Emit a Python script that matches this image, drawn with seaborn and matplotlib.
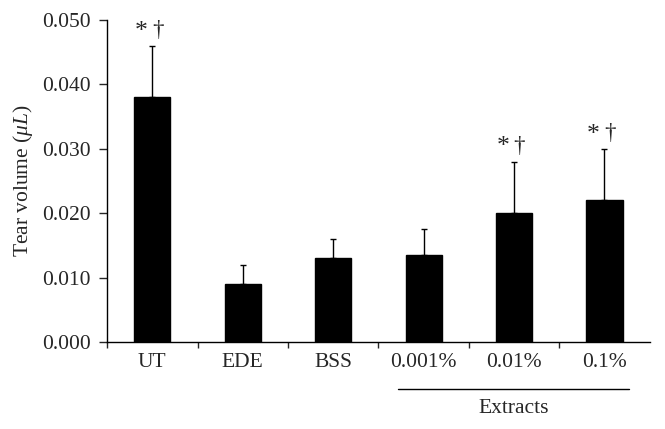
import matplotlib
matplotlib.use("Agg")
import matplotlib.pyplot as plt
import seaborn as sns
import pandas as pd
import matplotlib.transforms as mtransforms

categories = ["UT", "EDE", "BSS", "0.001%", "0.01%", "0.1%"]
means = [0.038, 0.009, 0.013, 0.0135, 0.020, 0.022]
errors = [0.008, 0.003, 0.003, 0.004, 0.008, 0.008]
marks = ["*\u2020", "", "", "", "*\u2020", "*\u2020"]
yticks = [0.000, 0.010, 0.020, 0.030, 0.040, 0.050]

sns.set_style("ticks")
plt.rcParams['font.family'] = ['Liberation Serif', 'DejaVu Serif']
plt.rcParams['mathtext.fontset'] = 'custom'
plt.rcParams['mathtext.it'] = 'Liberation Serif:italic'
plt.rcParams['mathtext.rm'] = 'Liberation Serif'

FS = 15.5

df = pd.DataFrame({"group": categories, "volume": means})

fig = plt.figure(figsize=(6.65, 4.29), dpi=100)
ax = fig.add_axes([0.161, 0.2028, 0.816, 0.7506])

sns.barplot(data=df, x="group", y="volume", order=categories, color="black",
            width=0.4, errorbar=None, ax=ax, saturation=1)
for p in ax.patches:
    p.set_edgecolor("black")

xs = list(range(len(categories)))
ax.errorbar(xs, means, yerr=[[0] * len(errors), errors], fmt="none",
            ecolor="black", elinewidth=1.0, capsize=2.5, capthick=1.0)

for x, m, e, t in zip(xs, means, errors, marks):
    if t:
        ax.text(x - 0.12, m + e + 0.0005, "*", ha="center", va="bottom",
                fontsize=FS + 3)
        ax.text(x + 0.06, m + e + 0.0008, "\u2020", ha="center", va="bottom",
                fontsize=FS + 1)

ax.set_xlim(-0.5, 5.5)
ax.set_ylim(0, 0.050)
ax.set_yticks(yticks)
ax.set_yticklabels([f"{v:.3f}" for v in yticks], fontsize=FS)
ax.set_xticks(xs)
ax.set_xticklabels(categories, fontsize=FS)
ax.tick_params(axis="x", which="major", length=0, pad=8)
ax.set_xticks([i - 0.5 for i in range(len(categories))], minor=True)
ax.tick_params(axis="x", which="minor", length=4, width=1, direction="out")
ax.tick_params(axis="y", length=6, width=1, direction="out", pad=6)
ax.set_xlabel("")
ax.set_ylabel(r"Tear volume ($\mathit{\mu L}$)", fontsize=FS, labelpad=5)

for s in ["top", "right"]:
    ax.spines[s].set_visible(False)
for s in ["left", "bottom"]:
    ax.spines[s].set_linewidth(1.0)
    ax.spines[s].set_color("black")

trans = mtransforms.blended_transform_factory(ax.transData, ax.transAxes)
ax.plot([2.72, 5.27], [-0.146, -0.146], color="black", lw=1.0,
        transform=trans, clip_on=False)
ax.text(4.0, -0.176, "Extracts", transform=trans, ha="center", va="top",
        fontsize=FS)

fig.savefig("out.png", dpi=100)
